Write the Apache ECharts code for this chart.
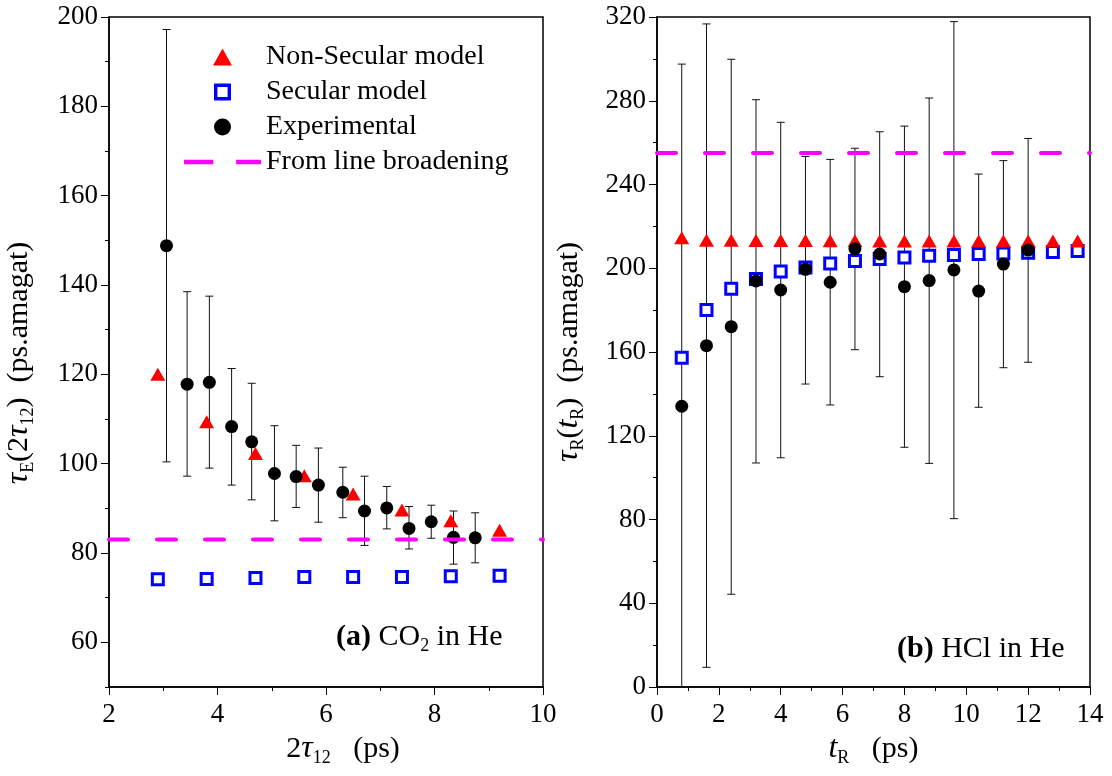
<!DOCTYPE html>
<html>
<head>
<meta charset="utf-8">
<script src="https://cdn.jsdelivr.net/npm/echarts@6/dist/echarts.min.js"></script>
<style>
  html, body { margin: 0; padding: 0; background: #fff; }
  #chart { width: 1112px; height: 776px; }
</style>
</head>
<body>
<div id="chart"></div>
<script>
// ---- panel (a): CO2 in He ----
var modelX_a = [2.9, 3.8, 4.7, 5.6, 6.5, 7.4, 8.3, 9.2];
var nonSecular_a = [120.0, 109.4, 102.3, 97.3, 93.2, 89.6, 87.2, 85.1];
var secular_a = [74.1, 74.2, 74.4, 74.6, 74.6, 74.6, 74.8, 74.9];
var expX_a = [3.06, 3.44, 3.85, 4.26, 4.63, 5.05, 5.45, 5.86, 6.31, 6.71, 7.12, 7.53, 7.94, 8.35, 8.75];
var expY_a = [148.8, 117.8, 118.2, 108.3, 104.9, 97.8, 97.1, 95.2, 93.6, 89.4, 90.1, 85.5, 87.0, 83.5, 83.4];
var expHi_a = [197.2, 138.5, 137.5, 121.3, 118.0, 108.5, 104.1, 103.5, 99.2, 97.2, 94.9, 90.4, 90.7, 89.4, 89.0];
var expLo_a = [100.4, 97.2, 99.0, 95.2, 91.9, 87.2, 90.2, 86.9, 87.9, 81.7, 85.4, 80.9, 83.3, 77.5, 77.8];
var broadening_a = 83;
var yLabels_a = [60, 80, 100, 120, 140, 160, 180, 200];
var yMinor_a = [50, 70, 90, 110, 130, 150, 170, 190];

// ---- panel (b): HCl in He ----
var modelX_b = [0.8, 1.6, 2.4, 3.2, 4.0, 4.8, 5.6, 6.4, 7.2, 8.0, 8.8, 9.6, 10.4, 11.2, 12.0, 12.8, 13.6];
var nonSecular_b = [214.6, 213.4, 213.4, 213.3, 213.2, 213.2, 213.1, 213.1, 213.0, 213.0, 213.0, 213.0, 213.0, 213.0, 213.0, 213.0, 213.0];
var secular_b = [157.3, 180.1, 190.2, 194.9, 198.4, 200.3, 202.3, 203.5, 204.4, 205.1, 206.0, 206.3, 206.8, 207.1, 207.4, 207.8, 208.2];
var expX_b = [0.8, 1.6, 2.4, 3.2, 4.0, 4.8, 5.6, 6.4, 7.2, 8.0, 8.8, 9.6, 10.4, 11.2, 12.0];
var expY_b = [134.1, 163.0, 172.1, 193.9, 189.6, 199.5, 193.3, 209.3, 206.8, 191.2, 194.1, 199.2, 189.1, 202.0, 208.7];
var expHi_b = [297.5, 316.7, 299.8, 280.5, 269.7, 253.4, 252.0, 257.3, 265.2, 267.9, 281.3, 317.8, 245.0, 251.4, 262.0];
var expLo_b = [-30, 9.4, 44.3, 107.0, 109.5, 144.7, 134.7, 161.1, 148.2, 114.5, 106.8, 80.4, 133.6, 152.5, 155.1];
var broadening_b = 255;

var FONT = 'Liberation Serif';

function pairs(xs, ys) {
  var out = [];
  for (var i = 0; i < xs.length; i++) out.push([xs[i], ys[i]]);
  return out;
}
function triples(xs, lo, hi) {
  var out = [];
  for (var i = 0; i < xs.length; i++) out.push([xs[i], lo[i], hi[i]]);
  return out;
}

// vertical error bars with small caps
function errorBars(idx, data) {
  return {
    type: 'custom',
    xAxisIndex: idx,
    yAxisIndex: idx === 0 ? 0 : 2,
    clip: true,
    z: 2,
    silent: true,
    encode: { x: 0, y: [1, 2] },
    data: data,
    renderItem: function (params, api) {
      var x = api.value(0);
      var top = api.coord([x, api.value(2)]);
      var bot = api.coord([x, api.value(1)]);
      var w = 4;
      var st = { stroke: '#111', lineWidth: 1 };
      return {
        type: 'group',
        children: [
          { type: 'line', shape: { x1: top[0], y1: top[1], x2: bot[0], y2: bot[1] }, style: st },
          { type: 'line', shape: { x1: top[0] - w, y1: top[1], x2: top[0] + w, y2: top[1] }, style: st },
          { type: 'line', shape: { x1: bot[0] - w, y1: bot[1], x2: bot[0] + w, y2: bot[1] }, style: st }
        ]
      };
    }
  };
}

var rich = {
  n: { fontFamily: FONT, fontSize: 30, fontWeight: 'normal', color: '#000' },
  i: { fontFamily: FONT, fontSize: 32, fontStyle: 'italic', fontWeight: 'normal', color: '#000' },
  s: { fontFamily: FONT, fontSize: 18, fontWeight: 'normal', color: '#000', padding: [18, 0, 0, 0] }
};

var axisLine = { show: true, lineStyle: { color: '#000', width: 1.5 } };
var tickLabel = { fontFamily: FONT, fontSize: 27, color: '#000' };

var chart = echarts.init(document.getElementById('chart'));
chart.setOption({
  animation: false,
  backgroundColor: '#fff',
  title: [
    {
      text: '{b|(a)}{n| CO}{s|2}{n| in He}',
      left: 336, top: 619, padding: 0,
      textStyle: { rich: {
        b: { fontFamily: FONT, fontSize: 30, fontWeight: 'bold', color: '#000' },
        n: rich.n, s: rich.s
      } }
    },
    {
      text: '{b|(b)}{n| HCl in He}',
      left: 897, top: 634, padding: 0,
      textStyle: { rich: {
        b: { fontFamily: FONT, fontSize: 30, fontWeight: 'bold', color: '#000' },
        n: rich.n
      } }
    }
  ],
  legend: {
    orient: 'vertical',
    left: 184, top: 43, padding: 0,
    itemWidth: 77, itemHeight: 17, itemGap: 7,
    symbolKeepAspect: true,
    textStyle: { fontFamily: FONT, fontSize: 28, color: '#000', lineHeight: 28 },
    data: [
      { name: 'Non-Secular model', icon: 'path://M10,0L20,18L0,18Z',
        itemStyle: { color: '#ff0000', opacity: 1 } },
      { name: 'Secular model', icon: 'path://M0,0H15V15H0Z M3,3V12H12V3Z',
        itemStyle: { color: '#0000ff', borderWidth: 0, opacity: 1 } },
      { name: 'Experimental', icon: 'path://M0,8.5A8.5,8.5,0,1,1,17,8.5A8.5,8.5,0,1,1,0,8.5Z',
        itemStyle: { color: '#000', opacity: 1 } },
      { name: 'From line broadening', icon: 'path://M0,0H27V4H0Z M48,0H71V4H48Z',
        itemStyle: { color: '#ff00ff', opacity: 1 } }
    ]
  },
  grid: [
    { left: 109, top: 17, width: 434, height: 670, show: true, borderColor: '#000', borderWidth: 1.5 },
    { left: 657, top: 17, width: 433, height: 670, show: true, borderColor: '#000', borderWidth: 1.5 }
  ],
  xAxis: [
    {
      gridIndex: 0, type: 'value', min: 2, max: 10, interval: 2,
      axisLine: axisLine,
      axisTick: { length: 8, lineStyle: { color: '#000' } },
      minorTick: { show: true, splitNumber: 2, length: 4, lineStyle: { color: '#000' } },
      splitLine: { show: false },
      axisLabel: Object.assign({ margin: 14 }, tickLabel),
      name: '{n|2}{i|τ}{s|12}{n|   (ps)}',
      nameLocation: 'middle', nameGap: 41,
      nameTextStyle: { rich: rich, padding: [0, 0, 0, 34] }
    },
    {
      gridIndex: 1, type: 'value', min: 0, max: 14, interval: 2,
      axisLine: axisLine,
      axisTick: { length: 8, lineStyle: { color: '#000' } },
      minorTick: { show: true, splitNumber: 2, length: 4, lineStyle: { color: '#000' } },
      splitLine: { show: false },
      axisLabel: Object.assign({ margin: 14 }, tickLabel),
      name: '{i|t}{s|R}{n|   (ps)}',
      nameLocation: 'middle', nameGap: 41,
      nameTextStyle: { rich: rich }
    }
  ],
  yAxis: [
    {
      gridIndex: 0, type: 'value', min: 50, max: 200, interval: 10,
      axisLine: axisLine,
      axisTick: { length: 8, customValues: yLabels_a, lineStyle: { color: '#000' } },
      splitLine: { show: false },
      axisLabel: Object.assign({ margin: 11, customValues: yLabels_a }, tickLabel),
      name: '{i|τ}{s|E}{n|(2}{i|τ}{s|12}{n|)  (ps.amagat)}',
      nameLocation: 'middle', nameGap: 72,
      nameTextStyle: { rich: rich, padding: [0, 22, 0, 0] }
    },
    {
      // minor ticks of the left panel
      gridIndex: 0, type: 'value', min: 50, max: 200, interval: 10, position: 'left',
      axisLine: { show: false },
      axisTick: { length: 4, customValues: yMinor_a, lineStyle: { color: '#000' } },
      axisLabel: { show: false },
      splitLine: { show: false }
    },
    {
      gridIndex: 1, type: 'value', min: 0, max: 320, interval: 40,
      axisLine: axisLine,
      axisTick: { length: 8, lineStyle: { color: '#000' } },
      minorTick: { show: true, splitNumber: 2, length: 4, lineStyle: { color: '#000' } },
      splitLine: { show: false },
      axisLabel: Object.assign({ margin: 11 }, tickLabel),
      name: '{i|τ}{s|R}{n|(}{i|t}{s|R}{n|)  (ps.amagat)}',
      nameLocation: 'middle', nameGap: 70,
      nameTextStyle: { rich: rich }
    }
  ],
  series: [
    errorBars(0, triples(expX_a, expLo_a, expHi_a)),
    errorBars(1, triples(expX_b, expLo_b, expHi_b)),
    {
      name: 'Secular model', type: 'scatter', xAxisIndex: 0, yAxisIndex: 0, z: 3,
      symbol: 'rect', symbolSize: 11,
      itemStyle: { color: '#fff', borderColor: '#0000ff', borderWidth: 3, opacity: 1 },
      data: pairs(modelX_a, secular_a)
    },
    {
      name: 'Secular model', type: 'scatter', xAxisIndex: 1, yAxisIndex: 2, z: 3,
      symbol: 'rect', symbolSize: 11,
      itemStyle: { color: '#fff', borderColor: '#0000ff', borderWidth: 3, opacity: 1 },
      data: pairs(modelX_b, secular_b)
    },
    {
      name: 'Non-Secular model', type: 'scatter', xAxisIndex: 0, yAxisIndex: 0, z: 4,
      symbol: 'triangle', symbolSize: [15, 13],
      itemStyle: { color: '#ff0000', opacity: 1 },
      data: pairs(modelX_a, nonSecular_a)
    },
    {
      name: 'Non-Secular model', type: 'scatter', xAxisIndex: 1, yAxisIndex: 2, z: 4,
      symbol: 'triangle', symbolSize: [15, 13],
      itemStyle: { color: '#ff0000', opacity: 1 },
      data: pairs(modelX_b, nonSecular_b)
    },
    {
      name: 'Experimental', type: 'scatter', xAxisIndex: 0, yAxisIndex: 0, z: 5,
      symbol: 'circle', symbolSize: 13,
      itemStyle: { color: '#000', opacity: 1 },
      data: pairs(expX_a, expY_a)
    },
    {
      name: 'Experimental', type: 'scatter', xAxisIndex: 1, yAxisIndex: 2, z: 5,
      symbol: 'circle', symbolSize: 13,
      itemStyle: { color: '#000', opacity: 1 },
      data: pairs(expX_b, expY_b)
    },
    {
      name: 'From line broadening', type: 'line', xAxisIndex: 0, yAxisIndex: 0, z: 6,
      symbol: 'none', color: '#ff00ff',
      lineStyle: { color: '#ff00ff', width: 4, type: [19, 29], cap: 'round' },
      data: [[2, broadening_a], [10, broadening_a]]
    },
    {
      name: 'From line broadening', type: 'line', xAxisIndex: 1, yAxisIndex: 2, z: 6,
      symbol: 'none', color: '#ff00ff',
      lineStyle: { color: '#ff00ff', width: 4, type: [19, 29], cap: 'round' },
      data: [[0, broadening_b], [14, broadening_b]]
    }
  ]
});
</script>
</body>
</html>
